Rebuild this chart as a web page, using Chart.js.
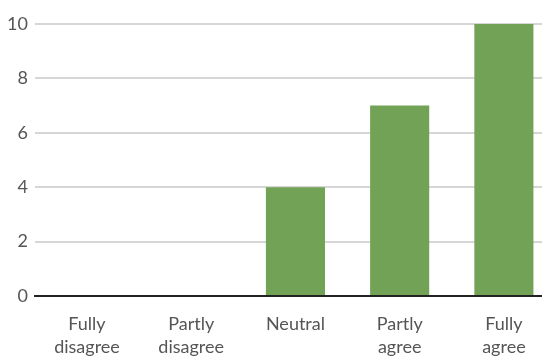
<!DOCTYPE html>
<html>
<head>
<meta charset="utf-8">
<script src="https://cdn.jsdelivr.net/npm/chart.js@4/dist/chart.umd.min.js"></script>
<style>
  html, body { margin: 0; padding: 0; background: #fff; overflow: hidden; width: 542px; height: 360px; }
  canvas { display: block; }
</style>
</head>
<body>
<canvas id="c" width="556" height="378"></canvas>
<script>
const categories = [["Fully", "disagree"], ["Partly", "disagree"], ["Neutral"], ["Partly", "agree"], ["Fully", "agree"]];
const responses = [0, 0, 4, 7, 10];
const yTicks = [0, 2, 4, 6, 8, 10];

const textColor = '#555555';
const font = { family: 'Lato', size: 18, lineHeight: 1.28 };

new Chart(document.getElementById('c'), {
  type: 'bar',
  data: {
    labels: categories,
    datasets: [{
      data: responses,
      backgroundColor: '#72a256',
      borderWidth: 0,
      barPercentage: 0.567,
      categoryPercentage: 1
    }]
  },
  options: {
    responsive: false,
    animation: false,
    layout: { padding: { top: 24, right: 0, bottom: 2, left: 0 } },
    plugins: { legend: { display: false }, tooltip: { enabled: false } },
    scales: {
      x: {
        grid: { display: false, drawTicks: false },
        border: { display: true, color: '#222222', width: 2 },
        ticks: { color: textColor, font: font, padding: 17, maxRotation: 0 }
      },
      y: {
        min: 0,
        max: 10,
        afterBuildTicks: axis => { axis.ticks = yTicks.map(v => ({ value: v })); },
        grid: { color: '#d6d6d6', lineWidth: 2, drawTicks: false },
        border: { display: false },
        ticks: { color: textColor, font: font, padding: 7 }
      }
    }
  }
});
</script>
</body>
</html>
